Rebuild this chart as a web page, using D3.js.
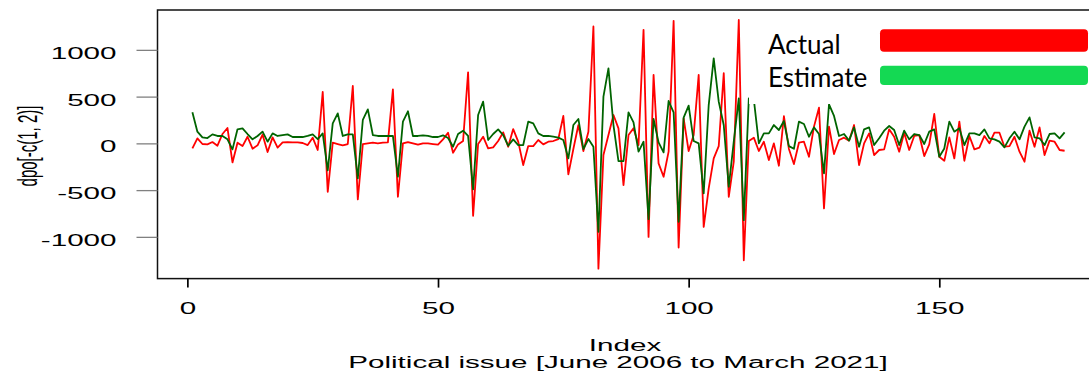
<!DOCTYPE html>
<html>
<head>
<meta charset="utf-8">
<script src="https://cdn.jsdelivr.net/npm/d3@7"></script>
<style>
  body { margin: 0; background: #fff; }
</style>
</head>
<body>
<div id="chart"></div>
<script>
// actual series (red), index 1..175
var actual = [
  -54, 54, -7, -11, 14, -25, 100, 164, -204, 7,
  -29, 71, -57, -21, 93, -93, 64, -46, 11, 14,
  11, 11, 4, -18, 61, -71, 550, -518, 7, -7,
  -21, -7, 614, -600, -7, 0, 7, 0, 7, 11,
  578, -571, 0, 14, 0, -14, 0, 0, -7, -14,
  43, 114, -100, -11, 25, 760, -775, -7, 71, -54,
  -43, 25, 118, -36, 153, 18, -232, -29, -29, 36,
  -11, 18, 25, 46, 293, -332, -60, 196, -82, 125,
  1250, -1340, -125, 89, 303, 161, -446, 89, 161, -18,
  1214, -1000, 732, -214, -357, -89, 1310, -1114, 268, -82,
  89, 732, -893, -482, -161, -29, 750, -571, -196, 1320,
  -1250, 25, 61, -82, 18, -178, 0, -239, 290, -60,
  -221, 7, 18, -143, 179, 382, -696, 179, -114, 36,
  61, 29, 196, -232, 0, 107, -125, -71, -64, 150,
  71, -89, 114, -71, 79, 89, -136, -10, 314, -143,
  -186, 64, -161, 232, -186, 79, -64, -46, 79, 0,
  114, 114, -36, -29, 71, -89, -196, 136, -36, 171,
  -125, 29, 18, -71, -79
];

// estimate series (dark green)
var estimate = [
  332, 125, 64, 57, 96, 79, 79, 43, -64, 150,
  160, 100, 43, 79, 125, 18, 107, 79, 89, 96,
  68, 68, 68, 79, 96, 46, 107, -290, 214, 321,
  79, 96, 96, -375, 250, 364, 89, 79, 79, 79,
  79, -357, 232, 343, 79, 79, 86, 79, 68, 68,
  86, 57, -36, 100, 136, 79, -493, 303, 446, 36,
  100, 150, 89, -25, 43, -18, -18, 232, 214, 107,
  79, 79, 71, 61, 36, -161, 196, 261, -61, 46,
  -36, -946, 500, 803, 196, -189, -189, 332, 225, -89,
  18, -810, 261, 11, -96, 453, 332, -839, 275, 403,
  25, 0, -535, 410, 910, 446, 196, -464, 18, 482,
  -821, 480, 470, 0, 107, 107, 196, 143, 239, -30,
  -58, 232, 207, 71, 171, 100, -321, 418, 293, 79,
  100, 29, 171, -36, 150, 171, -18, 54, 136, 186,
  143, -18, 136, 43, 100, 89, -7, 125, 150, -143,
  -54, 232, 125, 161, -18, 107, 107, 89, 150, 54,
  43, 18, -43, 54, 125, 43, 179, 278, 64, 54,
  -18, 100, 107, 54, 118
];

var xTicks = [0, 50, 100, 150];
var yTicks = [-1000, -500, 0, 500, 1000];
var legendLabels = ["Actual", "Estimate"];
var legendColors = ["#ff0000", "#14d953"];

var width = 1089, height = 375;
var stretch = 1.85;   // the R text in the picture is pulled wide
var rFont = "'Liberation Sans', Arial, sans-serif";

var svg = d3.select("#chart")
  .append("svg")
    .attr("width", width)
    .attr("height", height);

// R style 4% padding on both axes
var n = actual.length;
var pad = 0.04 * (n - 1);
var x = d3.scaleLinear()
  .domain([1 - pad, n + pad])
  .range([157.5, 1099.5]);

var all = actual.concat(estimate);
var lo = d3.min(all), hi = d3.max(all), span = hi - lo;
var y = d3.scaleLinear()
  .domain([lo - 0.04 * span, hi + 0.04 * span])
  .range([278.6, 10]);

svg.append("clipPath").attr("id", "plotclip")
  .append("rect")
    .attr("x", x.range()[0]).attr("y", y.range()[1])
    .attr("width", x.range()[1] - x.range()[0])
    .attr("height", y.range()[0] - y.range()[1]);

var line = d3.line()
  .x(function(d, i) { return x(i + 1); })
  .y(function(d) { return y(d); });

var plot = svg.append("g").attr("clip-path", "url(#plotclip)");

plot.append("path")
  .datum(actual)
  .attr("fill", "none")
  .attr("stroke", "#ff0000")
  .attr("stroke-width", 1.8)
  .attr("stroke-linejoin", "round")
  .attr("d", line);

plot.append("path")
  .datum(estimate)
  .attr("fill", "none")
  .attr("stroke", "#006400")
  .attr("stroke-width", 1.8)
  .attr("stroke-linejoin", "round")
  .attr("d", line);

// pasted legend sits on a white patch over the top right of the plot
svg.append("rect")
  .attr("x", 749).attr("y", 11.5)
  .attr("width", width - 749).attr("height", 92.5)
  .attr("fill", "#fff");

// box
svg.append("rect")
  .attr("x", x.range()[0]).attr("y", y.range()[1])
  .attr("width", x.range()[1] - x.range()[0])
  .attr("height", y.range()[0] - y.range()[1])
  .attr("fill", "none")
  .attr("stroke", "#111")
  .attr("stroke-width", 1.5);

// Y axis
var yAxis = svg.append("g")
  .attr("transform", "translate(" + x.range()[0] + ",0)")
  .call(d3.axisLeft(y).tickValues(yTicks).tickSize(21)
    .tickFormat(function(d) { return String(d); }));
yAxis.attr("font-size", 16).attr("font-family", rFont);
yAxis.select(".domain").remove();
yAxis.selectAll(".tick line").attr("stroke", "#808080").attr("stroke-width", 1.3);
yAxis.selectAll(".tick text")
  .attr("x", null).attr("dy", null)
  .attr("fill", "#000")
  .attr("text-anchor", "end")
  .attr("transform", "translate(-41,8.5) scale(" + stretch + ",1)");

// X axis
var xAxis = svg.append("g")
  .attr("transform", "translate(0," + y.range()[0] + ")")
  .call(d3.axisBottom(x).tickValues(xTicks).tickSize(9)
    .tickFormat(function(d) { return String(d); }));
xAxis.attr("font-size", 16).attr("font-family", rFont);
xAxis.select(".domain").remove();
xAxis.selectAll(".tick line").attr("stroke", "#000").attr("stroke-width", 1.7);
xAxis.selectAll(".tick text")
  .attr("y", null).attr("dy", null)
  .attr("fill", "#000")
  .attr("transform", "translate(0,35.5) scale(" + stretch + ",1)");

// axis titles
svg.append("text")
  .attr("transform", "translate(625,350.5) scale(" + stretch + ",1)")
  .attr("text-anchor", "middle")
  .attr("font-family", rFont).attr("font-size", 16)
  .text("Index");

svg.append("text")
  .attr("transform", "translate(618,368.3) scale(" + stretch + ",1)")
  .attr("text-anchor", "middle")
  .attr("font-family", rFont).attr("font-size", 16)
  .text("Political issue [June 2006 to March 2021]");

svg.append("text")
  .attr("transform", "translate(37,146) scale(" + stretch + ",1) rotate(-90)")
  .attr("text-anchor", "middle")
  .attr("font-family", rFont).attr("font-size", 15)
  .text("dpo[-c(1, 2)]");

// legend
var legY = [53.5, 87];
var barY = [29.3, 65.7];
var barH = [22.4, 19.3];

var leg = svg.append("g");
leg.selectAll("text.lab")
  .data(legendLabels)
  .enter()
  .append("text")
    .attr("class", "lab")
    .attr("x", 768)
    .attr("y", function(d, i) { return legY[i]; })
    .attr("font-family", "Lato, 'Open Sans', sans-serif")
    .attr("font-size", 26)
    .attr("fill", "#000")
    .text(function(d) { return d; });

leg.selectAll("rect.bar")
  .data(legendColors)
  .enter()
  .append("rect")
    .attr("class", "bar")
    .attr("x", 880)
    .attr("y", function(d, i) { return barY[i]; })
    .attr("width", 208)
    .attr("height", function(d, i) { return barH[i]; })
    .attr("rx", 4)
    .attr("fill", function(d) { return d; });
</script>
</body>
</html>
